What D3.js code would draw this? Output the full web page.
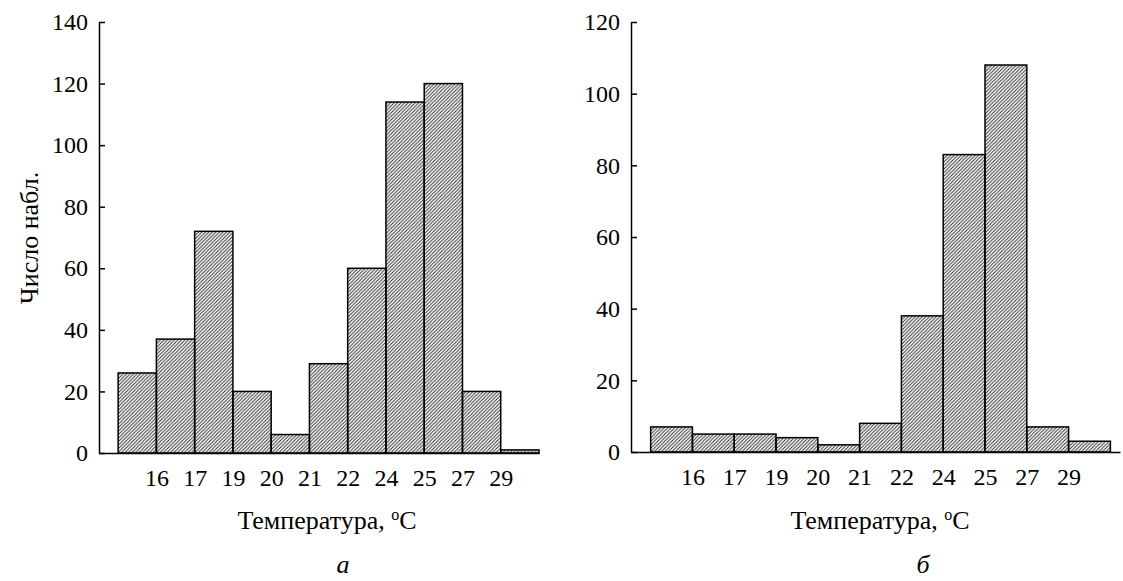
<!DOCTYPE html>
<html>
<head>
<meta charset="utf-8">
<script src="https://cdn.jsdelivr.net/npm/d3@7"></script>
<style>
  body { margin: 0; background: #fff; }
  svg { display: block; }
  text { font-family: "Liberation Serif", "Times New Roman", serif; fill: #000; }
</style>
</head>
<body>
<svg id="chart"></svg>
<script>
// Temperature class boundaries shown under the bar edges
const tickLabels = ['16', '17', '19', '20', '21', '22', '24', '25', '27', '29'];

// Number of observations per temperature class, panel "а" and panel "б"
const countsA = [26, 37, 72, 20, 6, 29, 60, 114, 120, 20, 1];
const countsB = [7, 5, 5, 4, 2, 8, 38, 83, 108, 7, 3];

const yTicksA = [0, 20, 40, 60, 80, 100, 120, 140];
const yTicksB = [0, 20, 40, 60, 80, 100, 120];

const width = 1123;
const height = 581;

const svg = d3.select('#chart')
    .attr('width', width)
    .attr('height', height);

// hatch fill for the bars (thin diagonal lines)
const hs = 3.5;
svg.append('defs').append('pattern')
    .attr('id', 'hatch')
    .attr('patternUnits', 'userSpaceOnUse')
    .attr('width', hs)
    .attr('height', hs)
    .append('path')
    .attr('d', `M${-hs / 4},${hs / 4} l${hs / 2},${-hs / 2} M0,${hs} l${hs},${-hs} M${hs * 3 / 4},${hs * 5 / 4} l${hs / 2},${-hs / 2}`)
    .attr('stroke', '#222')
    .attr('stroke-width', 0.9);

// panel layout
const panels = [
    {
        counts: countsA, yMax: 140, yTicks: yTicksA,
        xDomain: [-0.5, 11], xRange: [99, 539],
        yRange: [453, 22],
        titleX: 327, letter: 'а', letterX: 343, yLabel: 'Число набл.'
    },
    {
        counts: countsB, yMax: 120, yTicks: yTicksB,
        xDomain: [-0.47, 11.23], xRange: [631, 1120],
        yRange: [452, 22],
        titleX: 880, letter: 'б', letterX: 923, yLabel: null
    }
];

const drawPanel = p => {
    const g = svg.append('g');

    const x = d3.scaleLinear().domain(p.xDomain).range(p.xRange);
    const y = d3.scaleLinear().domain([0, p.yMax]).range(p.yRange);

    // bars
    g.selectAll('rect.bar').data(p.counts)
        .join('rect')
        .attr('class', 'bar')
        .attr('x', (d, i) => x(i))
        .attr('width', (d, i) => x(i + 1) - x(i))
        .attr('y', d => y(d))
        .attr('height', d => y(0) - y(d))
        .attr('fill', 'url(#hatch)')
        .attr('stroke', '#000')
        .attr('stroke-width', 1.5);

    // y axis, ticks pointing inward
    const yAxis = g.append('g')
        .attr('transform', `translate(${p.xRange[0]},0)`)
        .call(d3.axisLeft(y)
            .tickValues(p.yTicks)
            .tickSize(-6)
            .tickSizeOuter(0)
            .tickPadding(11));
    yAxis.selectAll('path, line').attr('stroke', '#000').attr('stroke-width', 1.5);
    yAxis.selectAll('text')
        .style('font-family', '"Liberation Serif", "Times New Roman", serif')
        .style('font-size', '24px');

    // x axis, labels at the class boundaries
    const xAxis = g.append('g')
        .attr('transform', `translate(0,${p.yRange[0]})`)
        .call(d3.axisBottom(x)
            .tickValues(d3.range(1, tickLabels.length + 1))
            .tickFormat((d, i) => tickLabels[i])
            .tickSize(0)
            .tickSizeOuter(0)
            .tickPadding(16));
    xAxis.selectAll('path').attr('stroke', '#000').attr('stroke-width', 1.5);
    xAxis.selectAll('text')
        .style('font-family', '"Liberation Serif", "Times New Roman", serif')
        .style('font-size', '24px');

    // axis title
    const title = g.append('text')
        .attr('x', p.titleX)
        .attr('y', 529)
        .attr('text-anchor', 'middle')
        .style('font-size', '26px');
    title.append('tspan').text('Температура, ');
    title.append('tspan').text('o').attr('dy', -9).style('font-size', '16px');
    title.append('tspan').text('C').attr('dy', 9);

    // panel letter
    g.append('text')
        .attr('x', p.letterX)
        .attr('y', 573)
        .attr('text-anchor', 'middle')
        .style('font-size', '26px')
        .style('font-style', 'italic')
        .text(p.letter);

    if (p.yLabel) {
        g.append('text')
            .attr('transform', 'translate(38,238) rotate(-90)')
            .attr('text-anchor', 'middle')
            .style('font-size', '26px')
            .text(p.yLabel);
    }
};

panels.forEach(drawPanel);
</script>
</body>
</html>
